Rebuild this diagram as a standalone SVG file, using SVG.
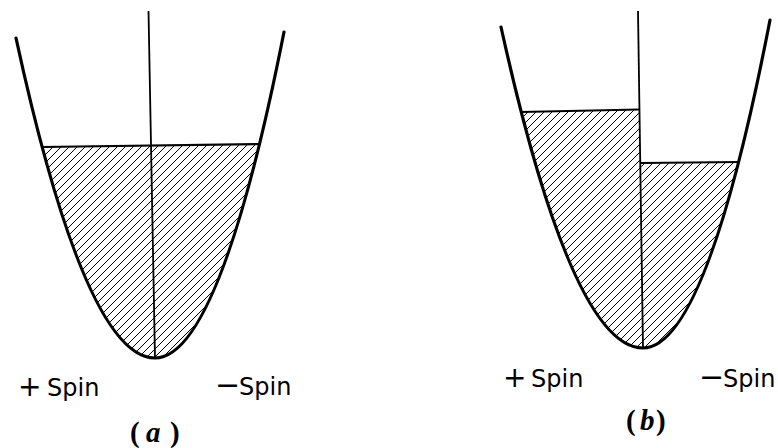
<svg xmlns="http://www.w3.org/2000/svg" width="778" height="448" viewBox="0 0 778 448">
<style>
.curve{fill:none;stroke:#000;stroke-width:3.2;stroke-linecap:round;stroke-linejoin:round}
.axis{fill:none;stroke:#000;stroke-width:1.8}
.level{fill:none;stroke:#000;stroke-width:2.2}
.hatch{fill:url(#hatch);stroke:none}
.lbl{font-family:"DejaVu Sans",sans-serif;font-size:24px;fill:#000}
.cap{font-family:"Liberation Serif",serif;font-size:29px;font-weight:bold;fill:#000}
</style>
<defs>
<pattern id="hatch" patternUnits="userSpaceOnUse" width="8" height="8">
<path d="M-1,1 L1,-1 M0,8 L8,0 M7,9 L9,7" stroke="#000" stroke-width="1"/>
</pattern>
<clipPath id="clipA"><path d="M16,38 Q85.5,358 155,358 Q219.5,358 284,32 Z"/></clipPath>
<clipPath id="clipB"><path d="M501,27 Q572,348 643,348 Q706.5,348 770,20 Z"/></clipPath>
</defs>

<g id="diagram-a">
<g clip-path="url(#clipA)">
<polygon class="hatch" points="0,147.6 300,143.5 300,370 0,370"/>
</g>
<line class="level" x1="42" y1="147" x2="260" y2="144"/>
<line class="axis" x1="148.5" y1="11" x2="155" y2="358"/>
<path class="curve" d="M16,38 Q85.5,358 155,358 Q219.5,358 284,32"/>
<text class="lbl" x="18" y="396"><tspan font-size="28">+</tspan><tspan x="47">Spin</tspan></text>
<text class="lbl" x="215" y="395"><tspan font-size="30">−</tspan><tspan x="239">Spin</tspan></text>
<text class="cap" y="442"><tspan x="130">(</tspan><tspan x="146" font-style="italic">a</tspan><tspan x="170">)</tspan></text>
</g>

<g id="diagram-b">
<g clip-path="url(#clipB)">
<polygon class="hatch" points="490,112.4 639.5,109.5 643,348 490,360"/>
<polygon class="hatch" points="641.2,163 778,162 778,360 643,348"/>
</g>
<line class="level" x1="521" y1="112" x2="639.5" y2="109.5"/>
<line class="level" x1="641" y1="163" x2="740" y2="162"/>
<line class="axis" x1="638" y1="11" x2="643" y2="348"/>
<path class="curve" d="M501,27 Q572,348 643,348 Q706.5,348 770,20"/>
<text class="lbl" x="503" y="387"><tspan font-size="28">+</tspan><tspan x="531">Spin</tspan></text>
<text class="lbl" x="699" y="387"><tspan font-size="30">−</tspan><tspan x="723">Spin</tspan></text>
<text class="cap" y="430"><tspan x="626">(</tspan><tspan x="640" font-style="italic">b</tspan><tspan x="656">)</tspan></text>
</g>
</svg>
